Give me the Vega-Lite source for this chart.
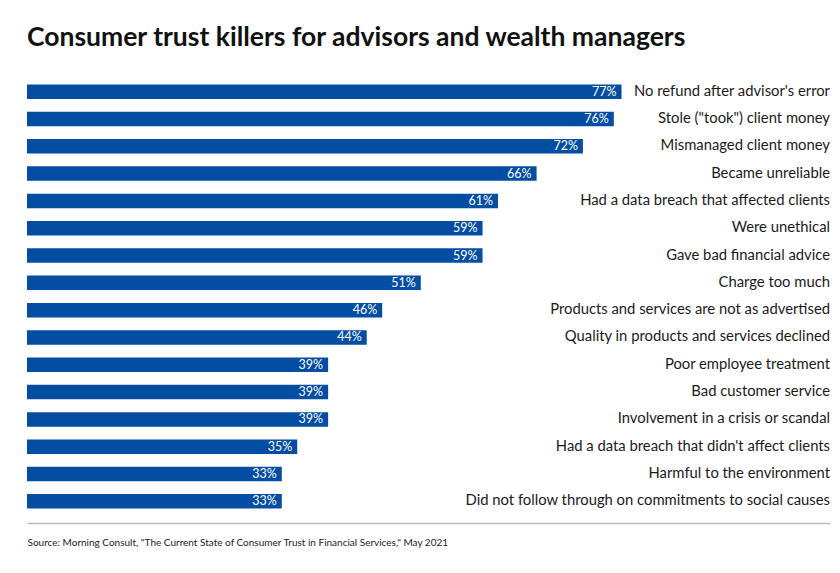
{
  "$schema": "https://vega.github.io/schema/vega-lite/v6.json",
  "width": 803,
  "height": 437,
  "autosize": {"type": "none"},
  "padding": {"left": 27, "top": 78, "right": 10, "bottom": 58},
  "background": "white",
  "title": {
    "text": "Consumer trust killers for advisors and wealth managers",
    "anchor": "start",
    "font": "Lato",
    "fontSize": 26.5,
    "fontWeight": "bold",
    "color": "#111111",
    "baseline": "alphabetic",
    "offset": 6
  },
  "config": {"view": {"stroke": null}, "font": "Lato"},
  "data": {
    "values": [
      {"label": "No refund after advisor's error", "value": 77},
      {"label": "Stole (\"took\") client money", "value": 76},
      {"label": "Mismanaged client money", "value": 72},
      {"label": "Became unreliable", "value": 66},
      {"label": "Had a data breach that affected clients", "value": 61},
      {"label": "Were unethical", "value": 59},
      {"label": "Gave bad financial advice", "value": 59},
      {"label": "Charge too much", "value": 51},
      {"label": "Products and services are not as advertised", "value": 46},
      {"label": "Quality in products and services declined", "value": 44},
      {"label": "Poor employee treatment", "value": 39},
      {"label": "Bad customer service", "value": 39},
      {"label": "Involvement in a crisis or scandal", "value": 39},
      {"label": "Had a data breach that didn't affect clients", "value": 35},
      {"label": "Harmful to the environment", "value": 33},
      {"label": "Did not follow through on commitments to social causes", "value": 33}
    ]
  },
  "encoding": {
    "y": {
      "field": "label",
      "type": "nominal",
      "sort": null,
      "scale": {"paddingInner": 0.47, "paddingOuter": 0.235},
      "axis": null
    }
  },
  "layer": [
    {
      "mark": {"type": "bar", "color": "#034ea2"},
      "encoding": {
        "x": {
          "field": "value",
          "type": "quantitative",
          "scale": {"domain": [0, 104], "nice": false},
          "axis": {
            "title": "Source: Morning Consult, \"The Current State of Consumer Trust in Financial Services,\" May 2021",
            "titleAnchor": "start",
            "titleFont": "Lato",
            "titleFontSize": 10,
            "titleFontWeight": "normal",
            "titleColor": "#222222",
            "titlePadding": 14,
            "labels": false,
            "ticks": false,
            "grid": false,
            "domain": true,
            "domainColor": "#bbbbbb",
            "domainWidth": 1.5,
            "offset": 8
          }
        }
      }
    },
    {
      "transform": [{"calculate": "datum.value + '%'", "as": "pct"}],
      "mark": {"type": "text", "align": "right", "baseline": "middle", "dx": -5, "color": "white", "fontSize": 12.5, "font": "Lato"},
      "encoding": {
        "x": {"field": "value", "type": "quantitative"},
        "text": {"field": "pct"}
      }
    },
    {
      "mark": {"type": "text", "align": "right", "baseline": "middle", "color": "#1a1a1a", "fontSize": 14.8, "font": "Lato"},
      "encoding": {
        "x": {"datum": 104},
        "text": {"field": "label"}
      }
    }
  ]
}
